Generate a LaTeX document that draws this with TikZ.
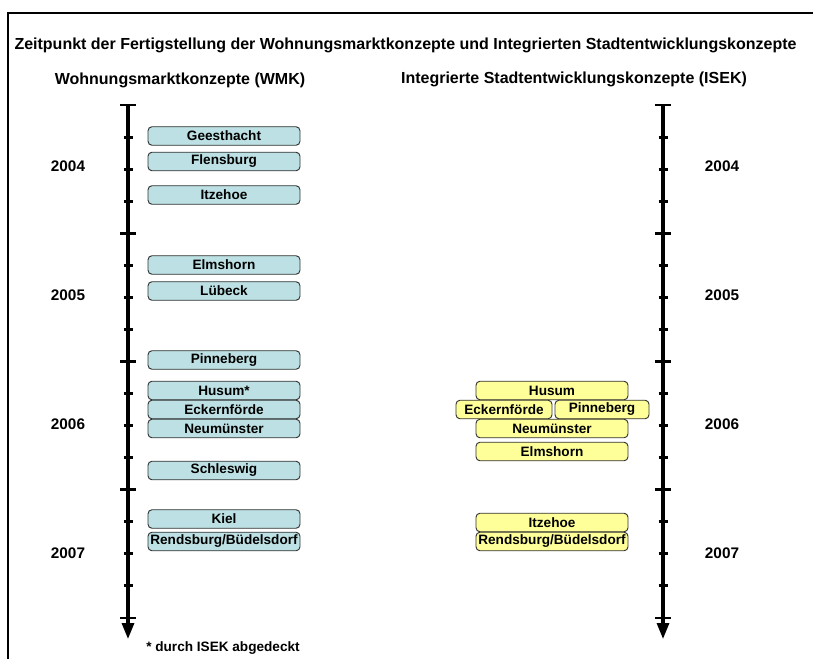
\documentclass[tikz,border=0pt]{standalone}
\usepackage{fontspec}
\setmainfont{Liberation Sans}
\usetikzlibrary{arrows.meta}
\definecolor{wmkblue}{RGB}{188,224,227}
\definecolor{isekyellow}{RGB}{255,255,153}
\tikzset{
  cbox/.style={draw=black!80, line width=0.7pt, rounded corners=3pt, inner sep=0pt,
    minimum height=13.9pt, font=\fontsize{10.2}{12}\selectfont\bfseries},
  wmkbox/.style={cbox, fill=wmkblue, minimum width=114pt},
  isekbox/.style={cbox, fill=isekyellow, minimum width=114pt},
  axisline/.style={line width=2.3pt, -{Triangle[length=12pt,width=9pt]}},
  majortick/.style={line width=2.2pt},
  minortick/.style={line width=2.2pt},
  yearlab/.style={font=\fontsize{11.5}{13}\selectfont\bfseries},
  headlab/.style={font=\fontsize{12}{14}\selectfont\bfseries},
}
\begin{document}
\begin{tikzpicture}[x=0.75pt,y=-0.75pt]
\useasboundingbox (0,0) rectangle (813,659);
% frame
\draw[line width=1.6pt] (8,660) -- (8,13) -- (814,13);
% headings
\node[font=\fontsize{12}{14}\selectfont\bfseries] (title) at (405.5,45) {Zeitpunkt der Fertigstellung der Wohnungsmarktkonzepte und Integrierten Stadtentwicklungskonzepte};
\node[headlab] (hwmk) at (180,80) {Wohnungsmarktkonzepte (WMK)};
\node[headlab] (hisek) at (574,79) {Integrierte Stadtentwicklungskonzepte (ISEK)};
% axes
\coordinate (ltop) at (128,105);
\coordinate (lbot) at (128,639);
\coordinate (rtop) at (663,105);
\coordinate (rbot) at (663,639);
\draw[axisline] (ltop) -- (lbot);
\draw[axisline] (rtop) -- (rbot);
\foreach \ax in {128,663}{
  \foreach \k in {0,1,2,3,4}{
    \draw[majortick] (\ax-8,105+128.25*\k) -- (\ax+8,105+128.25*\k);
  }
  \foreach \k in {1,2,3,5,6,7,9,10,11,13,14,15}{
    \draw[minortick] (\ax-4.5,105+32.0625*\k) -- (\ax+4.5,105+32.0625*\k);
  }
}
% year labels
\node[yearlab] (l2004) at (68,166) {2004};
\node[yearlab] (l2005) at (68,295) {2005};
\node[yearlab] (l2006) at (68,424) {2006};
\node[yearlab] (l2007) at (68,553) {2007};
\node[yearlab] (r2004) at (722,166) {2004};
\node[yearlab] (r2005) at (722,295) {2005};
\node[yearlab] (r2006) at (722,424) {2006};
\node[yearlab] (r2007) at (722,553) {2007};
% WMK boxes
\node[wmkbox] (wgee) at (224,136) {Geesthacht};
\node[wmkbox] (wfle) at (224,161.5) {Flensburg};
\node[wmkbox] (witz) at (224,195) {Itzehoe};
\node[wmkbox] (welm) at (224,265) {Elmshorn};
\node[wmkbox] (wlue) at (224,291) {Lübeck};
\node[wmkbox] (wpin) at (224,360) {Pinneberg};
\node[wmkbox] (whus) at (224,390.5) {Husum*};
\node[wmkbox] (weck) at (224,409.5) {Eckernförde};
\node[wmkbox] (wneu) at (224,428.5) {Neumünster};
\node[wmkbox] (wsch) at (224,470.5) {Schleswig};
\node[wmkbox] (wkie) at (224,519) {Kiel};
\node[wmkbox] (wren) at (224,541.5) {Rendsburg/Büdelsdorf};
% ISEK boxes
\node[isekbox] (ihus) at (552,390.5) {Husum};
\node[isekbox, minimum width=72pt] (ieck) at (504,409.5) {Eckernförde};
\node[isekbox, minimum width=70.5pt] (ipin) at (602,409.5) {Pinneberg};
\node[isekbox] (ineu) at (552,428.5) {Neumünster};
\node[isekbox] (ielm) at (552,451.5) {Elmshorn};
\node[isekbox] (iitz) at (552,522.5) {Itzehoe};
\node[isekbox] (iren) at (552,541.5) {Rendsburg/Büdelsdorf};
% footnote
\node[font=\fontsize{10.2}{12}\selectfont\bfseries] (foot) at (223,648) {* durch ISEK abgedeckt};
\end{tikzpicture}
\end{document}
